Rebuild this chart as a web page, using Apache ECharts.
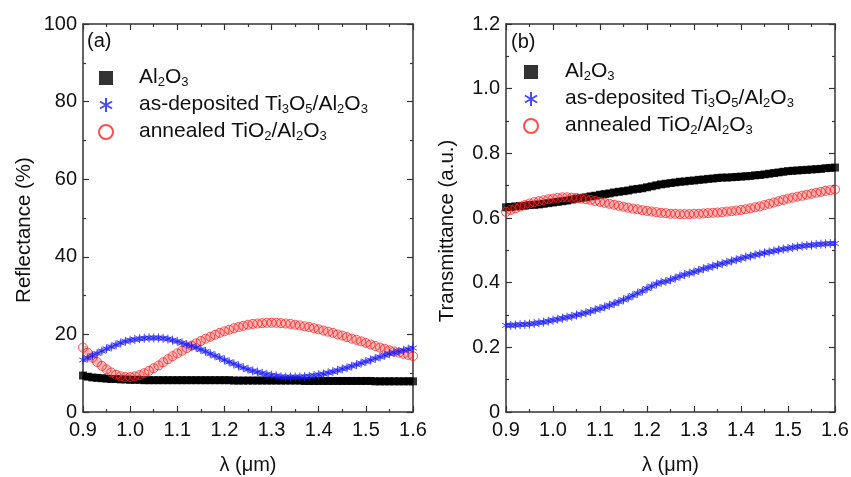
<!DOCTYPE html>
<html><head><meta charset="utf-8">
<script src="https://cdn.jsdelivr.net/npm/echarts@6/dist/echarts.min.js"></script>
<style>html,body{margin:0;padding:0;background:#fff}#c{width:851px;height:477px}</style>
</head><body><div id="c"></div>
<script>
const wavelength = [0.90,0.91,0.92,0.93,0.94,0.95,0.96,0.97,0.98,0.99,
1.00,1.01,1.02,1.03,1.04,1.05,1.06,1.07,1.08,1.09,
1.10,1.11,1.12,1.13,1.14,1.15,1.16,1.17,1.18,1.19,
1.20,1.21,1.22,1.23,1.24,1.25,1.26,1.27,1.28,1.29,
1.30,1.31,1.32,1.33,1.34,1.35,1.36,1.37,1.38,1.39,
1.40,1.41,1.42,1.43,1.44,1.45,1.46,1.47,1.48,1.49,
1.50,1.51,1.52,1.53,1.54,1.55,1.56,1.57,1.58,1.59,1.60];

const seriesNames = ['Al2O3', 'as-deposited Ti3O5/Al2O3', 'annealed TiO2/Al2O3'];

// Reflectance (%)
const reflAl2O3 = [9.4,9.1,8.9,8.8,8.7,8.6,8.5,8.5,8.4,8.4,
8.3,8.3,8.3,8.2,8.2,8.2,8.2,8.2,8.2,8.2,
8.2,8.2,8.2,8.2,8.2,8.2,8.2,8.2,8.2,8.2,
8.2,8.2,8.1,8.1,8.1,8.1,8.1,8.1,8.1,8.1,
8.1,8.1,8.1,8.1,8.1,8.1,8.1,8.0,8.0,8.0,
8.0,8.0,8.0,8.0,8.0,8.0,8.0,8.0,8.0,8.0,
8.0,8.0,7.9,7.9,7.9,7.9,7.9,7.9,7.9,7.9,7.9];
const reflTi3O5 = [13.4,13.9,14.5,15.1,15.7,16.3,16.8,17.3,17.8,18.2,
18.5,18.7,18.9,19.0,19.1,19.1,19.1,19.0,18.8,18.5,
18.2,17.8,17.4,17.0,16.6,16.1,15.6,15.0,14.5,14.0,
13.4,12.9,12.4,11.9,11.4,11.0,10.6,10.3,10.0,9.7,
9.5,9.3,9.1,9.0,9.0,9.0,9.0,9.1,9.2,9.4,
9.6,9.8,10.1,10.4,10.7,11.1,11.4,11.8,12.2,12.6,
13.0,13.4,13.8,14.2,14.6,15.0,15.3,15.6,15.9,16.2,16.5];
const reflTiO2 = [16.6,15.3,14.0,12.9,11.9,11.0,10.2,9.6,9.2,9.0,
9.0,9.2,9.5,10.0,10.6,11.3,12.0,12.8,13.6,14.4,
15.1,15.8,16.5,17.1,17.7,18.3,18.9,19.4,19.9,20.4,
20.8,21.2,21.6,21.9,22.2,22.5,22.7,22.8,22.9,23.0,
23.0,23.0,22.9,22.8,22.7,22.5,22.3,22.1,21.9,21.6,
21.3,21.0,20.7,20.4,20.0,19.7,19.3,18.9,18.6,18.2,
17.8,17.4,17.0,16.6,16.3,15.9,15.6,15.3,15.0,14.7,14.4];

// Transmittance (a.u.)
const transAl2O3 = [.633,.634,.636,.637,.638,.640,.641,.642,.644,.646,
.648,.650,.652,.654,.657,.660,.662,.664,.667,.669,
.672,.674,.676,.679,.681,.683,.685,.688,.690,.692,
.695,.698,.701,.704,.706,.708,.710,.712,.713,.715,
.716,.718,.719,.721,.722,.724,.725,.725,.726,.727,
.728,.729,.730,.732,.733,.735,.737,.739,.741,.743,
.745,.746,.747,.748,.749,.750,.751,.752,.754,.755,.756];
const transTi3O5 = [.268,.268,.269,.270,.271,.272,.274,.276,.278,.281,
.284,.287,.290,.293,.296,.300,.303,.307,.311,.316,
.320,.325,.330,.335,.341,.347,.353,.360,.367,.374,
.382,.389,.396,.401,.404,.409,.414,.420,.425,.429,
.433,.438,.443,.447,.451,.455,.459,.463,.467,.471,
.475,.479,.482,.486,.489,.492,.495,.498,.501,.504,
.506,.509,.511,.513,.515,.516,.518,.519,.520,.521,.521];
const transTiO2 = [.619,.625,.630,.635,.640,.645,.649,.652,.655,.658,
.660,.662,.664,.664,.663,.662,.660,.658,.656,.653,
.650,.647,.644,.641,.638,.635,.632,.629,.627,.624,
.622,.620,.618,.616,.615,.613,.613,.612,.612,.612,
.613,.613,.614,.615,.616,.617,.618,.620,.621,.623,
.625,.627,.630,.633,.636,.640,.644,.648,.652,.656,
.660,.663,.666,.669,.672,.675,.678,.681,.684,.686,.688];

const pairs = arr => wavelength.map((w, i) => [w, arr[i]]);
const FONT = '"Liberation Sans", Arial, sans-serif';
const AXC = '#333';
const TXT = '#111';
const asterisk = 'path://M5,0L5,10M0.67,2.5L9.33,7.5M0.67,7.5L9.33,2.5';

function richName(name) {
  return '{g|}' + name.split(/(\d)/).filter(s => s !== '').map(s => /^\d$/.test(s) ? '{s|' + s + '}' : '{n|' + s + '}').join('');
}

function xAxes(grid) {
  const base = {
    type: 'value', gridIndex: grid, min: 0.9, max: 1.6, interval: 0.1,
    axisLine: { show: true, onZero: false, lineStyle: { color: AXC, width: 1.5 } },
    axisTick: { show: true, inside: true, length: 6, lineStyle: { color: AXC, width: 1.2 } },
    minorTick: { show: true, splitNumber: 2, length: 3, lineStyle: { color: AXC, width: 1.2 } },
    splitLine: { show: false }
  };
  return [
    Object.assign({}, base, {
      position: 'bottom', name: 'λ (μm)', nameLocation: 'middle', nameGap: 43,
      nameTextStyle: { fontFamily: FONT, fontSize: 20, color: TXT },
      axisLabel: { fontFamily: FONT, fontSize: 20, color: TXT, margin: 8, formatter: v => v.toFixed(1) }
    }),
    Object.assign({}, base, { position: 'top', axisLabel: { show: false } })
  ];
}
function yAxes(grid, max, interval, name, fmt, gap, shift) {
  const base = {
    type: 'value', gridIndex: grid, min: 0, max: max, interval: interval,
    axisLine: { show: true, onZero: false, lineStyle: { color: AXC, width: 1.5 } },
    axisTick: { show: true, inside: true, length: 6, lineStyle: { color: AXC, width: 1.2 } },
    minorTick: { show: true, splitNumber: 2, length: 3, lineStyle: { color: AXC, width: 1.2 } },
    splitLine: { show: false }
  };
  return [
    Object.assign({}, base, {
      position: 'left', name: name, nameLocation: 'middle', nameGap: gap,
      nameTextStyle: { fontFamily: FONT, fontSize: 20.5, color: TXT, padding: [0, shift, 0, 0] },
      axisLabel: { fontFamily: FONT, fontSize: 20, color: TXT, margin: 6, formatter: fmt }
    }),
    Object.assign({}, base, { position: 'right', axisLabel: { show: false } })
  ];
}

function makeSeries(xi, yi, data) {
  const band = (d, color, width, z) => ({
    name: 'band', type: 'line', xAxisIndex: xi, yAxisIndex: yi, data: pairs(d),
    showSymbol: false, silent: true, smooth: 0.3, z: z,
    lineStyle: { color: color, width: width }
  });
  return [
    band(data[0], '#000', 7, 2),
    { name: seriesNames[0], type: 'scatter', xAxisIndex: xi, yAxisIndex: yi, data: pairs(data[0]),
      symbol: 'rect', symbolSize: 8, itemStyle: { color: '#000' }, z: 3 },
    band(data[2], 'rgba(255,40,40,0.35)', 7, 4),
    { name: seriesNames[2], type: 'scatter', xAxisIndex: xi, yAxisIndex: yi, data: pairs(data[2]),
      symbol: 'circle', symbolSize: 9, itemStyle: { color: 'rgba(0,0,0,0)', borderColor: '#ff2020', borderWidth: 1 }, z: 5 },
    band(data[1], 'rgba(30,30,255,0.55)', 5, 6),
    { name: seriesNames[1], type: 'scatter', xAxisIndex: xi, yAxisIndex: yi, data: pairs(data[1]),
      symbol: asterisk, symbolSize: 9, symbolKeepAspect: true, itemStyle: { color: 'rgba(0,0,0,0)', borderColor: '#1a1aff', borderWidth: 1 }, z: 7 }
  ];
}

function legend(left, top, gap) {
  return {
    orient: 'vertical', left: left, top: top, itemWidth: 14, itemHeight: 14, itemGap: 0,
    symbolKeepAspect: true, selectedMode: false,
    data: seriesNames,
    formatter: richName,
    textStyle: {
      color: TXT,
      rich: {
        g: { width: gap, height: 1 },
        n: { fontFamily: FONT, fontSize: 21, lineHeight: 22, verticalAlign: 'top', color: TXT },
        s: { fontFamily: FONT, fontSize: 13, lineHeight: 13, verticalAlign: 'bottom', padding: [14, 0, 0, 0], color: TXT }
      }
    }
  };
}

const chart = echarts.init(document.getElementById('c'), null, { renderer: 'canvas' });
chart.setOption({
  animation: false,
  backgroundColor: '#fff',
  title: [
    { text: '(a)', left: 82, top: 26, textStyle: { fontFamily: FONT, fontSize: 20, fontWeight: 'normal', color: TXT } },
    { text: '(b)', left: 506, top: 27, textStyle: { fontFamily: FONT, fontSize: 20, fontWeight: 'normal', color: TXT } }
  ],
  grid: [
    { left: 83, right: 438, top: 24, bottom: 65, containLabel: false, outerBoundsMode: 'none' },
    { left: 506, right: 16, top: 24, bottom: 65, containLabel: false, outerBoundsMode: 'none' }
  ],
  xAxis: [].concat(xAxes(0), xAxes(1)),
  yAxis: [].concat(
    yAxes(0, 100, 20, 'Reflectance (%)', v => String(v), 48, 24),
    yAxes(1, 1.2, 0.2, 'Transmittance (a.u.)', v => v === 0 ? '0' : v.toFixed(1), 48, 26)
  ),
  legend: [legend(93, 57, 21), legend(518, 51, 22)],
  series: [].concat(
    makeSeries(0, 0, [reflAl2O3, reflTi3O5, reflTiO2]),
    makeSeries(2, 2, [transAl2O3, transTi3O5, transTiO2])
  )
});
</script></body></html>
